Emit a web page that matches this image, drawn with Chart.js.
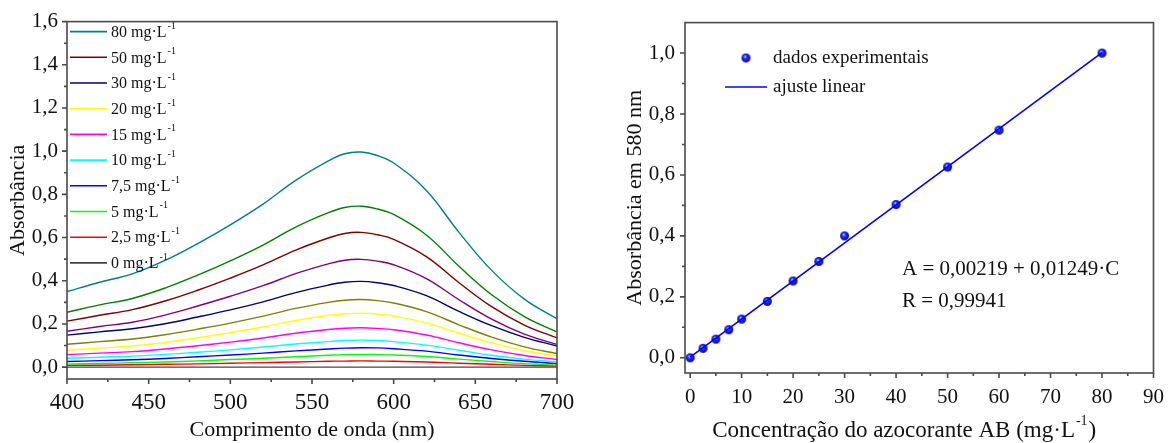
<!DOCTYPE html>
<html>
<head>
<meta charset="utf-8">
<script src="https://cdn.jsdelivr.net/npm/chart.js@4.4.0/dist/chart.umd.min.js"></script>
<style>
  body { margin: 0; background: #fff; }
  .panel { position: absolute; top: 0; width: 588px; height: 443px; }
</style>
</head>
<body>
<div class="panel" style="left:0"><canvas id="spectra" width="588" height="443"></canvas></div>
<div class="panel" style="left:588px"><canvas id="calib" width="588" height="443"></canvas></div>
<script>
// --- UV-Vis spectra of the dye standards ---
const wavelengths = [400, 420, 440, 460, 480, 500, 520, 540, 560, 570, 580, 590, 600, 620, 640, 660, 680, 700];
const abs80  = [0.350, 0.393, 0.432, 0.494, 0.572, 0.659, 0.755, 0.865, 0.955, 0.988, 0.996, 0.980, 0.945, 0.818, 0.624, 0.448, 0.315, 0.224];
const abs60  = [0.254, 0.288, 0.318, 0.366, 0.426, 0.492, 0.565, 0.648, 0.715, 0.739, 0.745, 0.732, 0.707, 0.612, 0.467, 0.335, 0.234, 0.163];
const abs50  = [0.213, 0.240, 0.266, 0.306, 0.356, 0.412, 0.473, 0.542, 0.598, 0.619, 0.624, 0.613, 0.592, 0.512, 0.391, 0.280, 0.195, 0.135];
const abs40  = [0.166, 0.188, 0.208, 0.241, 0.283, 0.328, 0.377, 0.433, 0.478, 0.495, 0.499, 0.491, 0.474, 0.410, 0.312, 0.222, 0.153, 0.105];
const abs30  = [0.148, 0.163, 0.178, 0.201, 0.232, 0.265, 0.302, 0.345, 0.380, 0.393, 0.397, 0.391, 0.378, 0.331, 0.258, 0.192, 0.138, 0.098];
const abs25  = [0.106, 0.118, 0.130, 0.150, 0.176, 0.204, 0.236, 0.272, 0.300, 0.310, 0.313, 0.308, 0.297, 0.257, 0.196, 0.139, 0.094, 0.063];
const abs20  = [0.078, 0.088, 0.098, 0.114, 0.136, 0.160, 0.186, 0.216, 0.239, 0.247, 0.250, 0.246, 0.237, 0.205, 0.157, 0.112, 0.076, 0.051];
const abs15  = [0.058, 0.065, 0.072, 0.084, 0.099, 0.116, 0.135, 0.157, 0.174, 0.180, 0.182, 0.179, 0.173, 0.149, 0.113, 0.080, 0.054, 0.035];
const abs10  = [0.041, 0.046, 0.051, 0.059, 0.069, 0.080, 0.093, 0.107, 0.118, 0.123, 0.125, 0.123, 0.118, 0.102, 0.078, 0.055, 0.037, 0.024];
const abs7_5 = [0.026, 0.030, 0.034, 0.040, 0.048, 0.056, 0.065, 0.075, 0.084, 0.088, 0.090, 0.089, 0.085, 0.074, 0.056, 0.040, 0.027, 0.017];
const abs5   = [0.014, 0.017, 0.020, 0.024, 0.029, 0.035, 0.041, 0.048, 0.055, 0.058, 0.059, 0.058, 0.056, 0.049, 0.037, 0.026, 0.016, 0.009];
const abs2_5 = [0.008, 0.009, 0.011, 0.013, 0.015, 0.018, 0.021, 0.024, 0.027, 0.028, 0.029, 0.028, 0.027, 0.024, 0.018, 0.013, 0.008, 0.005];
const abs0   = [0.000, 0.000, 0.000, 0.000, 0.000, 0.000, 0.000, 0.000, 0.000, 0.000, 0.000, 0.000, 0.000, 0.000, 0.000, 0.000, 0.000, 0.000];

const spectraLabels = ['80', '60', '50', '40', '30', '25', '20', '15', '10', '7,5', '5', '2,5', '0'];
const spectraValues = [abs80, abs60, abs50, abs40, abs30, abs25, abs20, abs15, abs10, abs7_5, abs5, abs2_5, abs0];
const spectraColors = ['#008080', '#008000', '#800000', '#800080', '#000080', '#808000', '#ffff00',
                       '#ff00ff', '#00ffff', '#0000ff', '#00ff00', '#ff0000', '#444444'];
// only some of the standards are listed in the key
const legendLabels = ['80', '50', '30', '20', '15', '10', '7,5', '5', '2,5', '0'];

const spectraXTicks = [400, 450, 500, 550, 600, 650, 700];
const spectraYTicks = [0, 0.2, 0.4, 0.6, 0.8, 1.0, 1.2, 1.4, 1.6];

// --- calibration at 580 nm ---
const concentrations = [0, 2.5, 5, 7.5, 10, 15, 20, 25, 30, 40, 50, 60, 80];
const abs580 = [0.000, 0.031, 0.061, 0.092, 0.127, 0.185, 0.252, 0.316, 0.400, 0.503, 0.626, 0.747, 1.000];
const fitConc = [0, 80];
const fitAbs = [0.00219, 1.00139];

const calibXTicks = [0, 10, 20, 30, 40, 50, 60, 70, 80, 90];
const calibYTicks = [0, 0.2, 0.4, 0.6, 0.8, 1.0];

const FONT = '"Liberation Serif", "Times New Roman", serif';
const comma = v => v.toFixed(1).replace('.', ',');

// text followed by a raised -1 (and an optional tail)
function drawUnitText(ctx, text, x, y, size, tail) {
  const small = Math.round(size * 0.62);
  ctx.font = size + 'px ' + FONT;
  const w = ctx.measureText(text).width;
  ctx.font = small + 'px ' + FONT;
  const ws = ctx.measureText('-1').width;
  ctx.font = size + 'px ' + FONT;
  ctx.fillText(text, x, y);
  if (tail) ctx.fillText(tail, x + w + ws + 2, y);
  ctx.font = small + 'px ' + FONT;
  ctx.fillText('-1', x + w + 1, y - size * 0.42);
}

function unitTextWidth(ctx, text, size, tail) {
  ctx.font = size + 'px ' + FONT;
  const w = ctx.measureText(text).width + (tail ? ctx.measureText(tail).width : 0);
  ctx.font = Math.round(size * 0.62) + 'px ' + FONT;
  return w + ctx.measureText('-1').width + 2;
}

// shaded ball used as the point marker
function sphere(r) {
  const c = document.createElement('canvas');
  c.width = c.height = 2 * r + 2;
  const g = c.getContext('2d');
  const grad = g.createRadialGradient(r * 0.75 + 1, r * 0.65 + 1, 0.3, r + 1, r + 1, r);
  grad.addColorStop(0, '#b8c0ff');
  grad.addColorStop(0.35, '#2233ff');
  grad.addColorStop(1, '#0000b0');
  g.fillStyle = grad;
  g.beginPath();
  g.arc(r + 1, r + 1, r, 0, Math.PI * 2);
  g.fill();
  return c;
}
const ball = sphere(4.5);

// frame round the plot and outward major/minor ticks
const frameTicks = {
  id: 'frameTicks',
  afterDraw(chart) {
    const { ctx, chartArea: a, scales: { x, y } } = chart;
    ctx.save();
    ctx.strokeStyle = '#4a4a4a';
    ctx.lineWidth = 1.6;
    ctx.strokeRect(a.left, a.top, a.width, a.height);
    ctx.beginPath();
    const xt = x.ticks.map(t => t.value);
    const yt = y.ticks.map(t => t.value);
    xt.forEach((v, i) => {
      const px = x.getPixelForValue(v);
      ctx.moveTo(px, a.bottom); ctx.lineTo(px, a.bottom + 5);
      if (i < xt.length - 1) {
        const pm = x.getPixelForValue((v + xt[i + 1]) / 2);
        ctx.moveTo(pm, a.bottom); ctx.lineTo(pm, a.bottom + 3);
      }
    });
    yt.forEach((v, i) => {
      const py = y.getPixelForValue(v);
      ctx.moveTo(a.left, py); ctx.lineTo(a.left - 5, py);
      if (i < yt.length - 1) {
        const pm = y.getPixelForValue((v + yt[i + 1]) / 2);
        ctx.moveTo(a.left, pm); ctx.lineTo(a.left - 3, pm);
      }
    });
    ctx.stroke();
    ctx.restore();
  }
};

// key for the spectra, drawn inside the plot
const spectraKey = {
  id: 'spectraKey',
  afterDraw(chart) {
    const { ctx, chartArea: a } = chart;
    ctx.save();
    ctx.textBaseline = 'middle';
    ctx.fillStyle = '#111';
    legendLabels.forEach((lab, i) => {
      const k = spectraLabels.indexOf(lab);
      const yy = a.top + 10 + i * 25.7;
      ctx.strokeStyle = spectraColors[k];
      ctx.lineWidth = 1.6;
      ctx.beginPath();
      ctx.moveTo(a.left + 3, yy); ctx.lineTo(a.left + 40, yy);
      ctx.stroke();
      drawUnitText(ctx, lab + ' mg·L', a.left + 44, yy + 1, 16);
    });
    ctx.restore();
  }
};

// key, fit equation and x title for the calibration
const calibKey = {
  id: 'calibKey',
  afterDraw(chart) {
    const { ctx, chartArea: a } = chart;
    ctx.save();
    ctx.textBaseline = 'middle';
    ctx.fillStyle = '#111';
    ctx.drawImage(ball, a.left + 61 - ball.width / 2, 58 - ball.height / 2);
    ctx.strokeStyle = '#0000ff';
    ctx.lineWidth = 1.6;
    ctx.beginPath();
    ctx.moveTo(a.left + 40, 87); ctx.lineTo(a.left + 82, 87);
    ctx.stroke();
    ctx.font = '19px ' + FONT;
    ctx.fillText('dados experimentais', a.left + 88, 58);
    ctx.fillText('ajuste linear', a.left + 88, 87);

    const title = 'Concentração do azocorante AB (mg·L';
    const tw = unitTextWidth(ctx, title, 23, ')');
    drawUnitText(ctx, title, a.left + a.width / 2 - 15 - tw / 2, 431, 23, ')');

    ctx.textBaseline = 'alphabetic';
    ctx.font = '21px ' + FONT;
    ctx.fillText('A = 0,00219 + 0,01249·C', a.left + 217, 275);
    ctx.fillText('R = 0,99941', a.left + 217, 307);
    ctx.restore();
  }
};

function setTicks(list) {
  return scale => { scale.ticks = list.map(v => ({ value: v })); };
}

const hiddenGrid = { display: false, drawTicks: false };

new Chart(document.getElementById('spectra'), {
  type: 'line',
  data: {
    datasets: spectraValues.map((vals, i) => ({
      label: spectraLabels[i] + ' mg·L⁻¹',
      data: wavelengths.map((w, j) => ({ x: w, y: vals[j] })),
      borderColor: spectraColors[i],
      borderWidth: 1.4,
      pointRadius: 0,
      tension: 0.4,
      fill: false
    }))
  },
  options: {
    responsive: false,
    animation: false,
    layout: { padding: { top: 20, right: 31, left: 0, bottom: 0 } },
    plugins: { legend: { display: false }, tooltip: { enabled: false } },
    scales: {
      x: {
        type: 'linear', min: 400, max: 700,
        afterBuildTicks: setTicks(spectraXTicks),
        afterFit: s => { s.height = 64; },
        grid: hiddenGrid, border: { display: false },
        ticks: { color: '#111', padding: 10, font: { family: FONT, size: 23 } },
        title: { display: true, text: 'Comprimento de onda (nm)', color: '#111',
                 padding: { top: 0, bottom: 0 }, font: { family: FONT, size: 22 } }
      },
      y: {
        type: 'linear', min: -0.055, max: 1.6,
        afterBuildTicks: setTicks(spectraYTicks),
        afterFit: s => { s.width = 67; },
        grid: hiddenGrid, border: { display: false },
        ticks: { color: '#111', padding: 9, callback: v => comma(v), font: { family: FONT, size: 21 } },
        title: { display: true, text: 'Absorbância', color: '#111',
                 padding: { top: 5, bottom: 0 }, font: { family: FONT, size: 22 } }
      }
    }
  },
  plugins: [frameTicks, spectraKey]
});

new Chart(document.getElementById('calib'), {
  type: 'scatter',
  data: {
    datasets: [
      {
        label: 'ajuste linear',
        type: 'line',
        data: fitConc.map((c, i) => ({ x: c, y: fitAbs[i] })),
        borderColor: '#0000ff',
        borderWidth: 1.6,
        pointRadius: 0
      },
      {
        label: 'dados experimentais',
        data: concentrations.map((c, i) => ({ x: c, y: abs580[i] })),
        pointStyle: ball,
        pointRadius: 4.5
      }
    ]
  },
  options: {
    responsive: false,
    animation: false,
    layout: { padding: { top: 16, right: 20, left: 0, bottom: 0 } },
    plugins: { legend: { display: false }, tooltip: { enabled: false } },
    scales: {
      x: {
        type: 'linear', min: -1, max: 90,
        afterBuildTicks: setTicks(calibXTicks),
        afterFit: s => { s.height = 70; },
        grid: hiddenGrid, border: { display: false },
        ticks: { color: '#111', padding: 12, font: { family: FONT, size: 21 } }
      },
      y: {
        type: 'linear', min: -0.05, max: 1.1,
        afterBuildTicks: setTicks(calibYTicks),
        afterFit: s => { s.width = 97; },
        grid: hiddenGrid, border: { display: false },
        ticks: { color: '#111', padding: 10, callback: v => comma(v), font: { family: FONT, size: 21 } },
        title: { display: true, text: 'Absorbância em 580 nm', color: '#111',
                 padding: { top: 34, bottom: 0 }, font: { family: FONT, size: 22 } }
      }
    }
  },
  plugins: [frameTicks, calibKey]
});
</script>
</body>
</html>
